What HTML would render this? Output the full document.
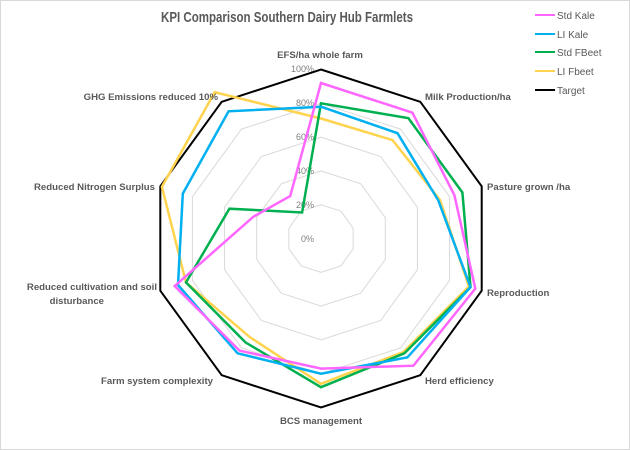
<!DOCTYPE html>
<html><head><meta charset="utf-8"><style>
html,body{margin:0;padding:0;background:#fff}
svg{display:block;font-family:"Liberation Sans",sans-serif}
</style></head><body>
<svg id="s" width="630" height="450" viewBox="0 0 630 450">
<rect x="0.5" y="0.5" width="629" height="449" fill="#fff" stroke="#d9d9d9"/>
<text x="287" y="22" text-anchor="middle" font-size="15" font-weight="bold" fill="#595959" textLength="252" lengthAdjust="spacingAndGlyphs">KPI Comparison Southern Dairy Hub Farmlets</text>
<g id="grid"></g>
<g font-size="9" fill="#7f7f7f" text-anchor="end">
<text x="314" y="72">100%</text><text x="314" y="106">80%</text><text x="314" y="140">60%</text>
<text x="314" y="174">40%</text><text x="314" y="208">20%</text><text x="314" y="242">0%</text>
</g>
<g id="series"></g>
<g font-size="9.6" font-weight="bold" fill="#595959">
<text x="320" y="58" text-anchor="middle">EFS/ha whole farm</text>
<text x="425" y="100">Milk Production/ha</text>
<text x="487" y="190">Pasture grown /ha</text>
<text x="487" y="296">Reproduction</text>
<text x="425" y="384">Herd efficiency</text>
<text x="321" y="424" text-anchor="middle">BCS management</text>
<text x="213" y="384" text-anchor="end">Farm system complexity</text>
<text x="157" y="290" text-anchor="end">Reduced cultivation and soil</text>
<text x="104" y="304" text-anchor="end">disturbance</text>
<text x="155" y="190" text-anchor="end">Reduced Nitrogen Surplus</text>
<text x="218" y="100" text-anchor="end">GHG Emissions reduced 10%</text>
</g>
<g font-size="10" fill="#595959">
<line x1="535" y1="15" x2="555" y2="15" stroke="#ff66ff" stroke-width="2"/><text x="557" y="19">Std Kale</text>
<line x1="535" y1="34" x2="555" y2="34" stroke="#00b0f0" stroke-width="2"/><text x="557" y="38">LI Kale</text>
<line x1="535" y1="52" x2="555" y2="52" stroke="#00b050" stroke-width="2"/><text x="557" y="56">Std FBeet</text>
<line x1="535" y1="71" x2="555" y2="71" stroke="#ffd34d" stroke-width="2"/><text x="557" y="75">LI Fbeet</text>
<line x1="535" y1="90" x2="555" y2="90" stroke="#000" stroke-width="2"/><text x="557" y="94">Target</text>
</g>
</svg>
<script>
var cx=321,cy=238.5,R=169,NS="http://www.w3.org/2000/svg";
function pts(v){return v.map(function(r,i){var a=i*Math.PI/5;return (cx+R*r*Math.sin(a)).toFixed(1)+","+(cy-R*r*Math.cos(a)).toFixed(1)}).join(" ");}
function poly(g,v,c,w){var p=document.createElementNS(NS,"polygon");p.setAttribute("points",pts(v));p.setAttribute("fill","none");p.setAttribute("stroke",c);p.setAttribute("stroke-width",w);p.setAttribute("stroke-linejoin","miter");document.getElementById(g).appendChild(p);}
[0.2,0.4,0.6,0.8].forEach(function(l){var v=[];for(var i=0;i<10;i++)v.push(l);poly("grid",v,"#d9d9d9",1);});
poly("series",[1,1,1,1,1,1,1,1,1,1],"#000",2);
poly("series",[0.71,0.72,0.74,0.92,0.83,0.86,0.72,0.84,0.99,1.07],"#ffd34d",2.5);
poly("series",[0.80,0.88,0.88,0.93,0.84,0.88,0.76,0.84,0.57,0.19],"#00b050",2.5);
poly("series",[0.78,0.77,0.73,0.93,0.87,0.80,0.84,0.89,0.86,0.93],"#00b0f0",2.5);
poly("series",[0.92,0.92,0.83,0.96,0.93,0.77,0.82,0.91,0.42,0.31],"#ff66ff",2.5);
</script>
</body></html>
